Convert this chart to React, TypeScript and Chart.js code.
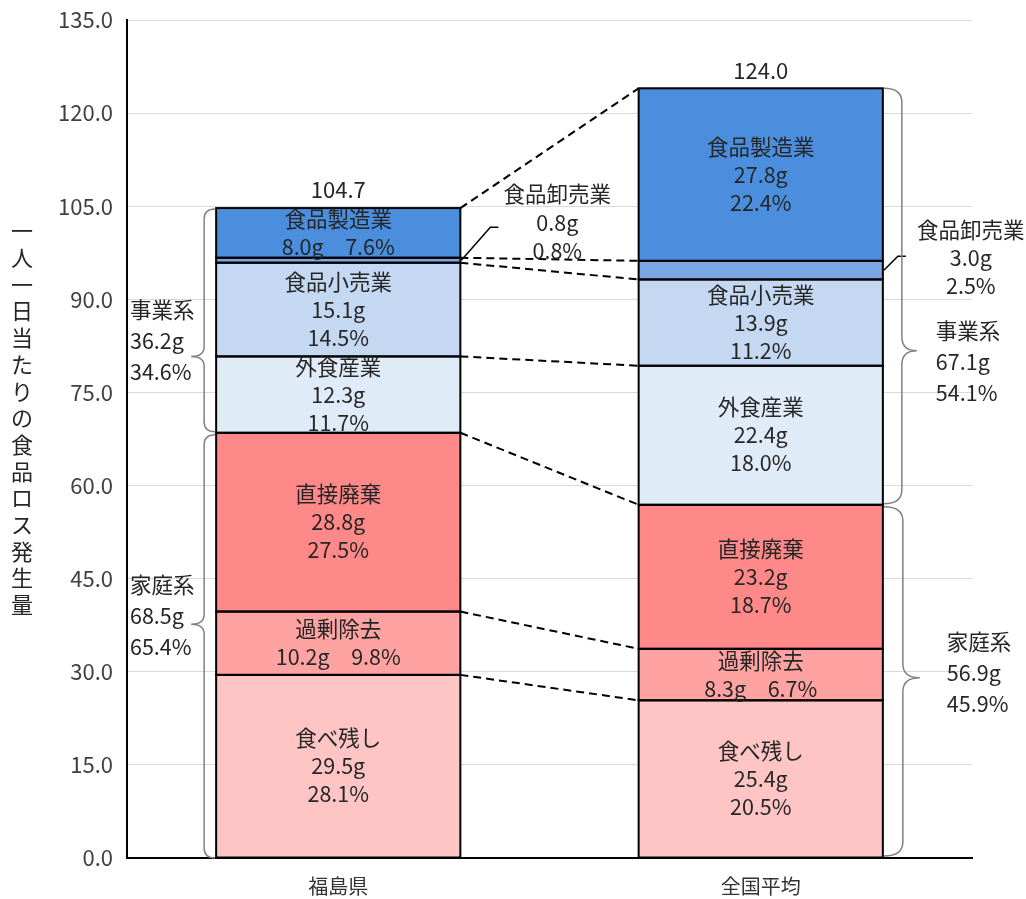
import React, { useEffect, useRef } from "react";
import { Chart, registerables } from "chart.js";

Chart.register(...registerables);

const categories = ["福島県", "全国平均"];
const seriesNames = ["食べ残し", "過剰除去", "直接廃棄", "外食産業", "食品小売業", "食品卸売業", "食品製造業"];
const tabenokoshi = [29.5, 25.4];
const kajoJokyo = [10.2, 8.3];
const chokusetsuHaiki = [28.8, 23.2];
const gaishoku = [12.3, 22.4];
const kouri = [15.1, 13.9];
const oroshi = [0.8, 3.0];
const seizou = [8.0, 27.8];
const pctTabenokoshi = [28.1, 20.5];
const pctKajoJokyo = [9.8, 6.7];
const pctChokusetsu = [27.5, 18.7];
const pctGaishoku = [11.7, 18.0];
const pctKouri = [14.5, 11.2];
const pctOroshi = [0.8, 2.5];
const pctSeizou = [7.6, 22.4];
const totals = [104.7, 124.0];
const jigyoGrams = [36.2, 67.1];
const jigyoPct = [34.6, 54.1];
const kateiGrams = [68.5, 56.9];
const kateiPct = [65.4, 45.9];
const yTicks = [0, 15, 30, 45, 60, 75, 90, 105, 120, 135];
const yTitle = "一人一日当たりの食品ロス発生量";
const colors = ["#FFC5C5", "#FFA2A2", "#FF8888", "#E0EBF8", "#C4D8F2", "#7BA8E4", "#4A8EDD"];

const seriesValues = [tabenokoshi, kajoJokyo, chokusetsuHaiki, gaishoku, kouri, oroshi, seizou];
const seriesPct = [pctTabenokoshi, pctKajoJokyo, pctChokusetsu, pctGaishoku, pctKouri, pctOroshi, pctSeizou];

const FONT = "'Noto Sans CJK JP', 'Noto Sans', sans-serif";
const GAP = "\u3000";

function brace(ctx: CanvasRenderingContext2D, x0: number, yTop: number, yBot: number, yTip: number, d: number, dv: number, dt: number, r: number) {
  const xv = x0 + d * dv;
  const xt = x0 + d * dt;
  ctx.beginPath();
  ctx.moveTo(x0, yTop);
  ctx.quadraticCurveTo(xv, yTop, xv, yTop + r);
  ctx.lineTo(xv, yTip - r);
  ctx.quadraticCurveTo(xv, yTip, xt, yTip);
  ctx.quadraticCurveTo(xv, yTip, xv, yTip + r);
  ctx.lineTo(xv, yBot - r);
  ctx.quadraticCurveTo(xv, yBot, x0, yBot);
  ctx.stroke();
}

const customPlugin = {
  id: "custom",
  afterDatasetsDraw(chart: any) {
    const ctx: CanvasRenderingContext2D = chart.ctx;
    const metas = seriesNames.map((_, i) => chart.getDatasetMeta(i));
    ctx.save();
    // bar outlines
    ctx.strokeStyle = "#000";
    ctx.lineWidth = 2;
    metas.forEach((m: any) => {
      m.data.forEach((el: any) => {
        ctx.strokeRect(el.x - el.width / 2, el.y, el.width, el.base - el.y);
      });
    });
    // dashed connectors
    ctx.setLineDash([8, 5]);
    ctx.lineWidth = 2;
    metas.forEach((m: any) => {
      const a = m.data[0];
      const b = m.data[1];
      ctx.beginPath();
      ctx.moveTo(a.x + a.width / 2, a.y);
      ctx.lineTo(b.x - b.width / 2, b.y);
      ctx.stroke();
    });
    ctx.setLineDash([]);

    // in-bar labels
    ctx.fillStyle = "#262626";
    ctx.textAlign = "center";
    ctx.textBaseline = "middle";
    ctx.font = `21.5px ${FONT}`;
    metas.forEach((m: any, i: number) => {
      m.data.forEach((el: any, j: number) => {
        const v = seriesValues[i][j];
        const p = seriesPct[i][j];
        const cy = (el.y + el.base) / 2;
        const g = `${v.toFixed(1)}g`;
        const pc = `${p.toFixed(1)}%`;
        if (v < 5) {
          const right = el.x + el.width / 2;
          ctx.strokeStyle = "#000";
          ctx.lineWidth = 1.5;
          ctx.beginPath();
          if (j === 0) {
            ctx.moveTo(right + 1, cy);
            ctx.lineTo(right + 30, cy - 33);
            ctx.lineTo(right + 38, cy - 33);
            ctx.stroke();
            const tx = right + 97;
            ctx.fillText(seriesNames[i], tx, cy - 66);
            ctx.fillText(g, tx, cy - 37);
            ctx.fillText(pc, tx, cy - 9);
          } else {
            ctx.moveTo(right + 1, cy);
            ctx.lineTo(right + 15, cy - 14);
            ctx.lineTo(right + 23, cy - 14);
            ctx.stroke();
            const tx = right + 88;
            ctx.fillText(seriesNames[i], tx, cy - 40);
            ctx.fillText(g, tx, cy - 12);
            ctx.fillText(pc, tx, cy + 16);
          }
        } else if (v < 12) {
          ctx.fillText(seriesNames[i], el.x, cy - 14);
          ctx.fillText(`${g}${GAP}${pc}`, el.x, cy + 14);
        } else {
          ctx.fillText(seriesNames[i], el.x, cy - 28);
          ctx.fillText(g, el.x, cy);
          ctx.fillText(pc, el.x, cy + 28);
        }
      });
    });

    // totals
    const top = metas[metas.length - 1];
    ctx.fillStyle = "#262626";
    ctx.font = `22px ${FONT}`;
    top.data.forEach((el: any, j: number) => {
      ctx.fillText(totals[j].toFixed(1), el.x, el.y - 18);
    });
    ctx.font = `21.5px ${FONT}`;

    // braces
    const yScale = chart.scales.y;
    ctx.strokeStyle = "#808080";
    ctx.lineWidth = 1.5;
    const el0 = metas[0].data[0];
    const el1 = metas[0].data[1];
    const left0 = el0.x - el0.width / 2;
    const right1 = el1.x + el1.width / 2;
    const houseTop0 = metas[2].data[0].y;
    const houseTop1 = metas[2].data[1].y;
    const top0 = top.data[0].y;
    const top1 = top.data[1].y;
    const zero = yScale.getPixelForValue(0);
    const tipL1 = top0 + (houseTop0 - top0) * 0.66;
    const tipL2 = houseTop0 + (zero - houseTop0) * 0.45;
    const tipR1 = top1 + (houseTop1 - top1) * 0.63;
    const tipR2 = houseTop1 + (zero - houseTop1) * 0.49;
    brace(ctx, left0 - 1, top0 + 1, houseTop0 - 1, tipL1, -1, 11, 24, 10);
    brace(ctx, left0 - 1, houseTop0 + 2, zero, tipL2, -1, 11, 24, 10);
    brace(ctx, right1 + 1, top1, houseTop1 - 1, tipR1, 1, 18, 33, 14);
    brace(ctx, right1 + 1, houseTop1 + 2, zero - 2, tipR2, 1, 19, 36, 14);

    // group labels
    ctx.fillStyle = "#262626";
    ctx.textAlign = "left";
    const grp = (x: number, y: number, name: string, g: number, p: number) => {
      ctx.fillText(name, x, y);
      ctx.fillText(`${g.toFixed(1)}g`, x, y + 31);
      ctx.fillText(`${p.toFixed(1)}%`, x, y + 62);
    };
    grp(130, tipL1 - 47, "事業系", jigyoGrams[0], jigyoPct[0]);
    grp(130, tipL2 - 39, "家庭系", kateiGrams[0], kateiPct[0]);
    grp(right1 + 53, tipR1 - 20, "事業系", jigyoGrams[1], jigyoPct[1]);
    grp(right1 + 64, tipR2 - 36, "家庭系", kateiGrams[1], kateiPct[1]);
    ctx.restore();
  },
  afterDraw(chart: any) {
    const ctx: CanvasRenderingContext2D = chart.ctx;
    ctx.save();
    ctx.fillStyle = "#262626";
    ctx.font = `22px ${FONT}`;
    ctx.textAlign = "center";
    ctx.textBaseline = "middle";
    const chars = Array.from(yTitle);
    chars.forEach((c, i) => {
      ctx.fillText(c, 22, 231 + i * 26.7);
    });
    ctx.restore();
  },
};

export default function App() {
  const ref = useRef<HTMLCanvasElement | null>(null);
  useEffect(() => {
    if (!ref.current) return;
    const chart = new Chart(ref.current, {
      type: "bar",
      data: {
        labels: categories,
        datasets: seriesNames.map((name, i) => ({
          label: name,
          data: seriesValues[i],
          backgroundColor: colors[i],
          borderWidth: 0,
          barPercentage: 0.578,
          categoryPercentage: 1,
        })),
      },
      options: {
        responsive: false,
        animation: false,
        layout: { padding: { top: 20, right: 54, left: 0, bottom: 0 } },
        plugins: { legend: { display: false }, tooltip: { enabled: false } },
        scales: {
          x: {
            stacked: true,
            grid: { display: false },
            border: { display: true, color: "#000", width: 2 },
            ticks: { color: "#333", font: { size: 20, family: FONT }, padding: 8 },
            afterFit(s: any) { s.height = 41; s.paddingLeft = 0; s.paddingRight = 0; },
          },
          y: {
            stacked: true,
            min: yTicks[0],
            max: yTicks[yTicks.length - 1],
            afterBuildTicks(s: any) { s.ticks = yTicks.map((v) => ({ value: v })); },
            ticks: {
              color: "#404040",
              font: { size: 22, family: FONT },
              padding: 14,
              callback: (v: any) => Number(v).toFixed(1),
            },
            grid: { color: "#d9d9d9", lineWidth: 1, drawTicks: false },
            border: { display: true, color: "#000", width: 2 },
            afterFit(s: any) { s.width = 127; s.paddingTop = 0; s.paddingBottom = 0; },
          },
        },
      },
      plugins: [customPlugin],
    } as any);
    return () => chart.destroy();
  }, []);
  return (
    <div style={{ position: "absolute", left: 0, top: 0, width: 1026, height: 899, background: "#fff" }}>
      <canvas ref={ref} width={1026} height={899} style={{ display: "block" }} />
    </div>
  );
}
